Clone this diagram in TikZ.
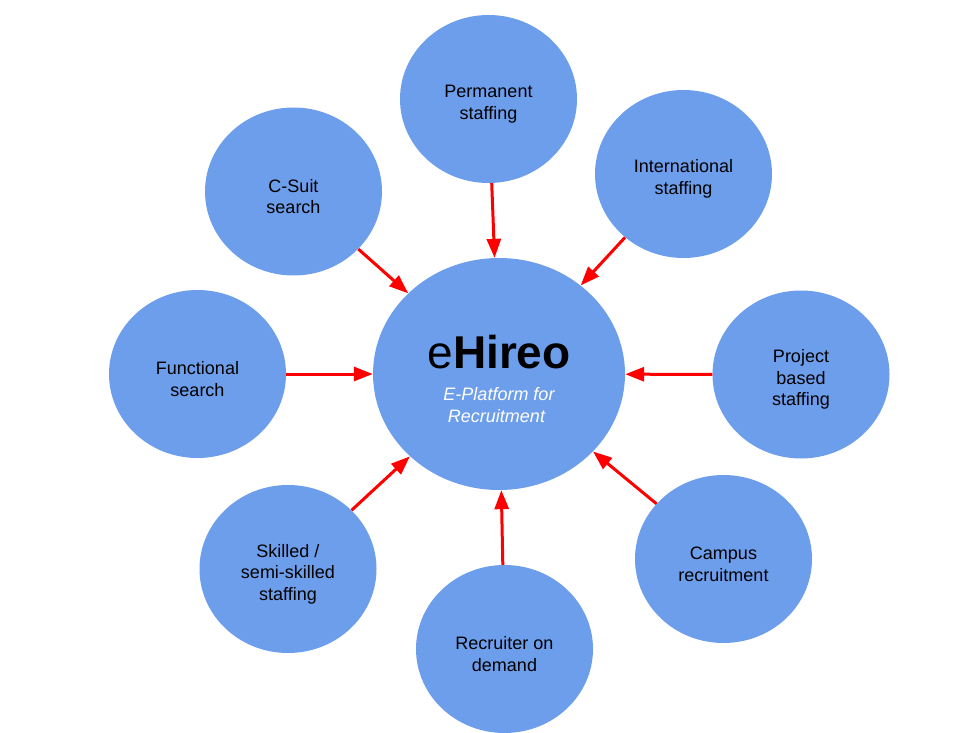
\documentclass[tikz,border=0pt]{standalone}
\usepackage{fontspec}
\setmainfont{Liberation Sans}
\usetikzlibrary{shapes.geometric, arrows.meta}
\definecolor{hireoblue}{HTML}{6D9EEB}
\newcommand{\toplift}{\rule{0pt}{23pt}}
\tikzset{
	every service/.style={ellipse, fill=hireoblue, inner sep=0pt,
		minimum width=177pt, minimum height=168pt, align=center,
		font=\fontsize{18}{21.6}\selectfont},
	every hub/.style={ellipse, fill=hireoblue, inner sep=0pt,
		minimum width=252pt, minimum height=232pt, align=center,
		font=\fontsize{18}{22}\selectfont},
	every feed/.style={-{Triangle[length=19pt, width=14pt]},
		line width=3pt, color=red}
}

\begin{document}
\begin{tikzpicture}[x=1pt, y=-1pt]
		\useasboundingbox (0,0) rectangle (970,733);
		\node [every hub/.try] (hub) at (499,374) {
			\rule{0pt}{44pt}{\fontsize{46}{46}\selectfont e\textbf{Hireo}}\\[10pt]
			\color{white}\itshape E-Platform for\\
			\color{white}\itshape Recruitment
		};
		\foreach \s/\px/\py/\t in {
				permanent/488.5/99/{Permanent\\staffing},
				international/683.5/174/{International\\staffing},
				project/801/374.5/{Project\\based\\staffing},
				campus/723.5/559/{Campus\\recruitment},
				recruiter/504.5/649/{Recruiter on\\demand},
				skilled/288/569/{Skilled /\\semi-skilled\\staffing},
				functional/197.5/374/{Functional\\search},
				csuit/293.5/191.5/{C-Suit\\search}} {
			\node [every service/.try] (\s) at (\px,\py) {\toplift\t};
			\draw [every feed/.try] (\s) -- (hub);
		};

	\end{tikzpicture}
\end{document}
